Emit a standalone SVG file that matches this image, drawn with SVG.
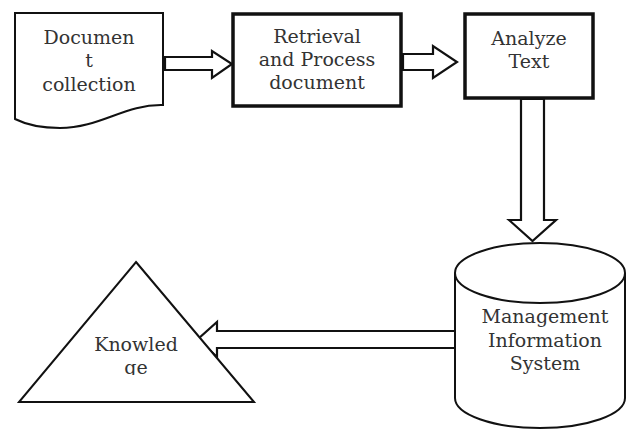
<svg xmlns="http://www.w3.org/2000/svg" width="626" height="429" viewBox="0 0 626 429">
<style>
.t{font-family:"DejaVu Serif","Liberation Serif",serif;font-size:19px;fill:#333;text-anchor:middle}
.s{fill:#fff;stroke:#111;stroke-width:2}
.b{fill:#fff;stroke:#111;stroke-width:3.5}
.a{fill:#fff;stroke:#111;stroke-width:2.2;stroke-linejoin:miter}
</style>
<defs>
<clipPath id="cg"><rect x="100" y="355" width="80" height="20"/></clipPath>
</defs>
<rect width="626" height="429" fill="#fff"/>
<g id="connectors">
<polygon class="a" points="165,57 212,57 212,51 232,64 212,78 212,70 165,70"/>
<polygon class="a" points="403,54 433,54 433,46 457,62 433,78 433,70 403,70"/>
<polygon class="a" points="521,99 544,99 544,220 556,220 532.5,241 509,220 521,220"/>
<polygon class="a" points="456,331 217,331 217,322 198,339 217,357 217,348 456,348"/>
</g>
<g id="document">
<path class="s" d="M15,13 H163 V105 C125,104 100,128 60,128 C40,128 25,124 15,119 Z"/>
<text class="t" x="89" y="44">Documen</text>
<text class="t" x="89" y="67">t</text>
<text class="t" x="89" y="91">collection</text>
</g>
<g id="retrieval">
<rect class="b" x="233" y="14" width="168" height="92"/>
<text class="t" x="317" y="43">Retrieval</text>
<text class="t" x="317" y="66">and Process</text>
<text class="t" x="317" y="89">document</text>
</g>
<g id="analyze">
<rect class="b" x="465" y="14" width="128" height="84"/>
<text class="t" x="529" y="45">Analyze</text>
<text class="t" x="529" y="68">Text</text>
</g>
<g id="mis">
<path class="s" d="M455,273 V398 A85,30 0 0 0 625,398 V273"/>
<ellipse class="s" cx="540" cy="273" rx="85" ry="30"/>
<text class="t" x="545" y="323">Management</text>
<text class="t" x="545" y="347">Information</text>
<text class="t" x="545" y="370">System</text>
</g>
<g id="knowledge">
<polygon class="s" points="136,262 254,402 19,402"/>
<text class="t" x="136" y="351">Knowled</text>
<text class="t" x="136" y="374" clip-path="url(#cg)">ge</text>
</g>
</svg>
